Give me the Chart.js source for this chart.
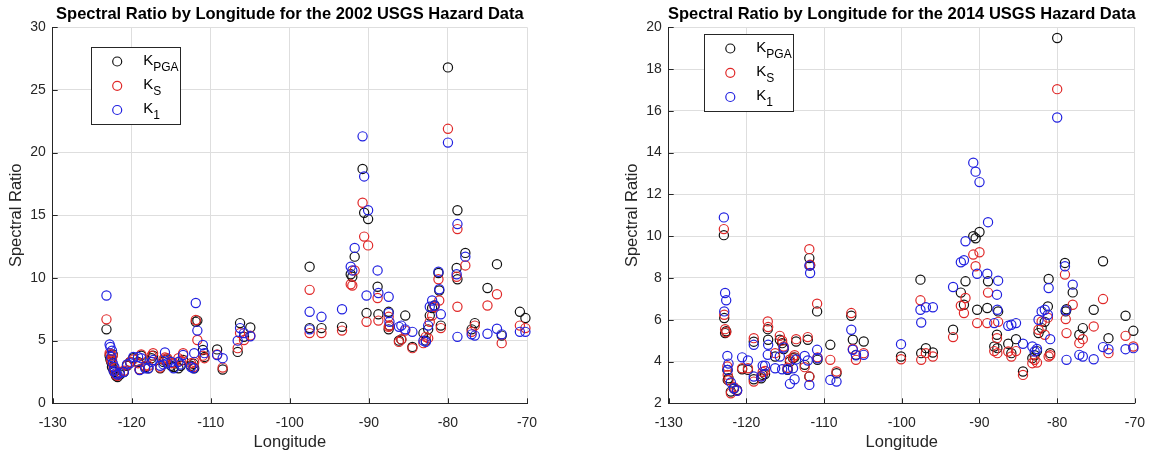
<!DOCTYPE html>
<html lang="en">
<head>
<meta charset="UTF-8">
<title>Spectral Ratio by Longitude</title>
<script src="https://cdn.jsdelivr.net/npm/chart.js"></script>
<style>
  body { margin: 0; background: #fff; }
  .panel { position: absolute; top: 0; width: 578px; height: 454px; }
</style>
</head>
<body>
<div class="panel" style="left:0"><canvas id="chart2002" width="578" height="454"></canvas></div>
<div class="panel" style="left:578px"><canvas id="chart2014" width="578" height="454"></canvas></div>
<script>
// ---- data ----
const seriesNames = ['K', 'K', 'K'];
const seriesSubs = ['PGA', 'S', '1'];
const seriesColors = ['#111111', '#e02828', '#2020e0'];

const xTicks = [-130, -120, -110, -100, -90, -80, -70];
const yTicks2002 = [0, 5, 10, 15, 20, 25, 30];
const yTicks2014 = [2, 4, 6, 8, 10, 12, 14, 16, 18, 20];

const lon2002 = [-123.2, -122.8, -122.7, -122.6, -122.5, -122.4, -122.3, -122.2, -122.0, -121.8, -121.5, -121.0,
  -120.6, -120.2, -119.8, -119.2, -119.0, -118.8, -118.3, -117.9, -117.5, -117.3, -116.4, -116.0, -115.8, -115.5,
  -115.0, -114.7, -114.1, -113.8, -113.5, -112.5, -112.2, -112.1, -111.9, -111.7, -111.0, -110.8, -109.2, -108.5,
  -106.6, -106.3, -105.8, -105.0,
  -97.5, -97.5, -96.0, -93.4, -92.3, -92.1, -91.8, -90.8, -90.6, -90.1, -90.3, -88.9, -88.8, -87.5, -87.5, -87.4,
  -86.2, -85.9, -85.4, -84.5, -83.1, -82.8, -82.5, -82.3, -82.0, -81.7, -81.2, -81.1, -80.9, -80.0, -78.8, -78.9,
  -78.8, -77.8, -77.0, -76.6, -75.0, -73.8, -73.2, -70.9, -70.2];
const kpga2002 = [5.9, 3.8, 3.5, 3.3, 2.9, 3.9, 2.7, 2.5, 2.2, 2.1, 2.3, 2.5, 3.0, 3.3, 3.6, 3.3, 2.7, 3.8, 2.9, 2.8,
  3.6, 3.8, 2.8, 3.3, 3.45, 3.5, 3.0, 2.9, 2.8, 3.0, 3.45, 3.0, 3.15, 2.8, 6.5, 6.6, 4.25, 3.7, 4.3, 2.7, 4.1, 6.4,
  5.3, 6.05,
  10.9, 6.0, 6.0, 6.1, 10.3, 10.1, 11.7, 18.7, 15.2, 14.7, 7.2, 9.3, 7.1, 7.3, 5.9, 6.2, 5.0, 5.1, 7.0, 4.5, 5.6,
  5.0, 5.9, 7.0, 7.6, 7.8, 10.4, 9.0, 6.2, 26.8, 15.4, 10.8, 9.9, 12.0, 5.9, 6.4, 9.2, 11.1, 5.4, 7.3, 6.8];
const ks2002 = [6.7, 4.0, 3.9, 3.4, 3.5, 3.8, 2.9, 2.6, 2.3, 2.2, 2.5, 2.6, 3.05, 3.3, 3.5, 3.2, 2.7, 3.9, 3.0, 3.0,
  3.8, 4.0, 2.85, 3.5, 3.65, 3.6, 3.2, 3.2, 3.6, 3.4, 4.0, 3.2, 2.9, 3.3, 6.65, 5.05, 3.8, 3.6, 3.9, 2.85, 4.4, 5.6,
  5.05, 5.4,
  9.05, 5.6, 5.6, 5.8, 9.5, 9.4, 10.6, 16.0, 13.3, 12.6, 6.5, 8.4, 6.6, 6.9, 6.1, 6.2, 4.9, 5.1, 5.8, 4.4, 4.8, 5.3,
  5.2, 6.5, 7.0, 7.7, 9.9, 8.2, 6.0, 21.9, 13.9, 10.1, 7.7, 11.0, 5.7, 6.2, 7.8, 8.7, 4.8, 6.2, 6.0];
const k12002 = [8.6, 4.7, 4.5, 3.7, 4.2, 3.2, 2.6, 2.9, 2.4, 2.3, 2.4, 2.5, 3.1, 3.2, 3.7, 3.7, 2.65, 3.6, 2.8, 2.8,
  3.3, 3.45, 3.0, 3.1, 4.05, 3.2, 3.3, 2.8, 3.3, 3.1, 3.85, 2.9, 2.8, 4.0, 8.0, 5.8, 4.65, 4.0, 3.85, 3.6, 5.0, 6.0,
  5.6, 5.35,
  7.3, 5.9, 6.9, 7.5, 10.9, 10.6, 12.4, 21.3, 18.1, 15.4, 8.6, 10.6, 8.8, 8.5, 7.2, 6.5, 6.1, 6.2, 5.9, 5.7, 5.0,
  4.9, 6.2, 7.7, 8.2, 7.8, 10.5, 9.1, 7.1, 20.8, 14.3, 10.3, 5.3, 11.7, 5.5, 5.4, 5.55, 5.95, 5.5, 5.7, 5.7];

const lon2014 = [-122.9, -122.85, -122.74, -122.6, -122.45, -122.4, -122.3, -122.0, -121.6, -121.2, -120.55, -119.8,
  -119.05, -119.05, -118.1, -117.9, -117.6, -117.25, -117.2, -116.3, -115.7, -115.4, -115.2, -114.7, -114.4, -114.0,
  -113.8, -113.6, -112.5, -112.1, -111.9, -111.9, -111.8, -110.9, -110.85, -109.2, -108.4, -106.5, -106.3, -105.9,
  -104.9,
  -100.1, -97.6, -97.5, -96.9, -96.0, -93.4, -92.4, -92.0, -91.8, -90.8, -90.5, -90.0, -90.3, -88.9, -89.0, -87.6,
  -87.75, -87.7, -88.1, -86.3, -85.9, -85.3, -84.4, -83.2, -82.9, -82.6, -82.4, -82.0, -81.6, -81.2, -81.1, -80.9,
  -80.0, -79.0, -78.9, -78.8, -78.0, -77.15, -76.7, -75.3, -74.1, -73.4, -71.2, -70.2];
const kpga2014 = [10.05, 6.08, 5.36, 5.45, 3.6, 3.12, 3.2, 2.56, 2.7, 2.64, 3.63, 3.6, 3.15, 4.95, 3.2, 3.36, 3.4,
  5.55, 5.04, 4.24, 5.04, 4.88, 4.6, 3.6, 4.0, 4.16, 4.2, 4.96, 3.84, 5.04, 3.28, 8.95, 8.6, 6.4, 4.08, 4.8, 3.44,
  6.19, 5.04, 4.32, 4.96,
  4.24, 7.92, 4.4, 4.64, 4.43, 5.52, 7.3, 6.72, 7.84, 10.0, 9.9, 10.2, 6.48, 7.84, 6.56, 6.4, 5.28, 4.64, 4.72, 4.85,
  4.4, 5.07, 3.52, 4.16, 4.3, 4.5, 5.36, 5.6, 5.9, 6.64, 7.95, 4.4, 19.49, 8.72, 6.4, 6.5, 7.31, 5.28, 5.6, 6.48,
  8.8, 5.12, 6.19, 5.47];
const ks2014 = [10.34, 6.24, 5.55, 5.4, 3.76, 3.36, 3.1, 2.48, 2.77, 2.6, 3.68, 3.68, 3.04, 5.12, 3.3, 3.5, 3.55,
  5.92, 5.65, 4.4, 5.23, 5.0, 4.72, 3.7, 4.1, 4.2, 4.3, 5.07, 3.73, 5.17, 3.28, 9.38, 8.63, 6.77, 4.2, 4.08, 3.52,
  6.32, 4.6, 4.08, 4.4,
  4.11, 6.93, 4.08, 4.4, 4.24, 5.17, 6.67, 6.32, 7.04, 9.12, 8.56, 9.23, 5.84, 7.3, 5.84, 5.9, 5.12, 4.4, 4.5, 4.48,
  4.24, 4.5, 3.36, 3.92, 4.08, 3.95, 5.52, 5.92, 5.28, 6.1, 4.24, 4.3, 17.04, 8.16, 6.03, 5.36, 6.72, 4.88, 5.07,
  5.68, 6.99, 4.4, 5.23, 4.72];
const k12014 = [10.9, 6.4, 7.28, 6.93, 4.27, 3.6, 3.9, 3.0, 2.72, 2.6, 4.2, 4.05, 3.28, 4.8, 3.28, 3.8, 3.8, 4.32,
  4.8, 3.68, 4.24, 3.63, 4.67, 3.63, 2.93, 3.68, 3.15, 4.1, 4.27, 4.05, 2.88, 8.59, 8.24, 4.56, 4.16, 3.12, 3.04,
  5.52, 4.56, 4.3, 4.32,
  4.83, 6.48, 5.87, 6.6, 6.6, 7.57, 8.75, 8.85, 9.76, 13.52, 13.09, 12.59, 8.2, 10.67, 8.2, 7.87, 7.2, 6.48, 5.84,
  5.71, 5.76, 5.84, 4.85, 4.72, 4.48, 4.6, 6.0, 6.4, 6.48, 6.24, 7.52, 5.07, 15.68, 8.56, 6.45, 4.08, 7.68, 4.32,
  4.24, 4.11, 4.69, 4.59, 4.59, 4.64];

const FONT = '"Liberation Sans", Arial, Helvetica, sans-serif';
const AXIS_GRAY = '#262626';

// draws the MATLAB-like bits: inward ticks, title, axis labels, legend box
const matlabLook = {
  id: 'matlabLook',
  afterDraw(chart, args, opts) {
    const ctx = chart.ctx;
    const area = chart.chartArea;
    const xs = chart.scales.x, ys = chart.scales.y;
    ctx.save();

    // inward tick marks
    ctx.strokeStyle = AXIS_GRAY;
    ctx.lineWidth = 1;
    ctx.beginPath();
    xs.ticks.forEach(t => {
      const px = Math.round(xs.getPixelForValue(t.value)) + 0.5;
      ctx.moveTo(px, area.bottom);
      ctx.lineTo(px, area.bottom - 5);
    });
    ys.ticks.forEach(t => {
      const py = Math.round(ys.getPixelForValue(t.value)) + 0.5;
      ctx.moveTo(area.left, py);
      ctx.lineTo(area.left + 5, py);
    });
    ctx.stroke();

    const midX = (area.left + area.right) / 2;
    const midY = (area.top + area.bottom) / 2;

    // title
    ctx.fillStyle = '#000';
    ctx.font = 'bold 16.5px ' + FONT;
    ctx.textAlign = 'center';
    ctx.textBaseline = 'middle';
    ctx.fillText(opts.title, midX, 14);

    // axis labels
    ctx.fillStyle = AXIS_GRAY;
    ctx.font = '16.5px ' + FONT;
    ctx.fillText('Longitude', midX, 442);
    ctx.save();
    ctx.translate(area.left - 36, midY);
    ctx.rotate(-Math.PI / 2);
    ctx.fillText('Spectral Ratio', 0, 0);
    ctx.restore();

    // legend
    const bx = area.left + opts.legendDx, by = area.top + opts.legendDy;
    const bw = 89, bh = 77;
    ctx.fillStyle = '#fff';
    ctx.fillRect(bx, by, bw, bh);
    ctx.strokeStyle = AXIS_GRAY;
    ctx.strokeRect(Math.round(bx) + 0.5, Math.round(by) + 0.5, bw, bh);
    const rows = [14.5, 38.8, 63];
    chart.data.datasets.forEach(ds => {
      const ry = by + rows[ds.legendIndex];
      ctx.beginPath();
      ctx.strokeStyle = ds.borderColor;
      ctx.lineWidth = 1.2;
      ctx.arc(bx + 26, ry, 4.5, 0, Math.PI * 2);
      ctx.stroke();
      ctx.fillStyle = '#000';
      ctx.textAlign = 'left';
      ctx.textBaseline = 'alphabetic';
      ctx.font = '15px ' + FONT;
      ctx.fillText(ds.nameMain, bx + 52, ry + 3);
      const w = ctx.measureText(ds.nameMain).width;
      ctx.font = '12px ' + FONT;
      ctx.fillText(ds.nameSub, bx + 52 + w, ry + 9);
    });

    ctx.restore();
  }
};

function makeDatasets(lon, series) {
  // blue drawn on top like in the original (lower order = drawn last)
  return series.map((vals, i) => ({
    label: seriesNames[i] + '_' + seriesSubs[i],
    nameMain: seriesNames[i],
    nameSub: seriesSubs[i],
    legendIndex: i,
    order: 2 - i,
    clip: false,
    data: lon.map((x, j) => ({ x: x, y: vals[j] })),
    borderColor: seriesColors[i],
    backgroundColor: 'rgba(0,0,0,0)',
    pointStyle: 'circle',
    pointRadius: 4.6,
    pointHoverRadius: 4.6,
    pointBorderWidth: 1.2
  }));
}

function makeChart(id, lon, series, yTicks, opts) {
  const ctx = document.getElementById(id).getContext('2d');
  return new Chart(ctx, {
    type: 'scatter',
    data: { datasets: makeDatasets(lon, series) },
    options: {
      responsive: false,
      animation: false,
      events: [],
      layout: { padding: { top: 27.3, right: opts.rightPad, left: 0, bottom: 0 } },
      plugins: {
        legend: { display: false },
        tooltip: { enabled: false },
        matlabLook: { title: opts.title, legendDx: opts.legendDx, legendDy: opts.legendDy }
      },
      scales: {
        x: {
          type: 'linear',
          min: xTicks[0],
          max: xTicks[xTicks.length - 1],
          afterBuildTicks: s => { s.ticks = xTicks.map(v => ({ value: v })); },
          afterFit: s => { s.height = 454 - 403.3; },
          grid: { color: '#dedede', drawTicks: false },
          border: { color: AXIS_GRAY, width: 1 },
          ticks: { color: AXIS_GRAY, font: { family: FONT, size: 14 }, padding: 11, maxRotation: 0 }
        },
        y: {
          type: 'linear',
          min: yTicks[0],
          max: yTicks[yTicks.length - 1],
          afterBuildTicks: s => { s.ticks = yTicks.map(v => ({ value: v })); },
          afterFit: s => { s.width = opts.yAxisWidth; },
          grid: { color: '#dedede', drawTicks: false },
          border: { color: AXIS_GRAY, width: 1 },
          ticks: { color: AXIS_GRAY, font: { family: FONT, size: 14 }, padding: 7 }
        }
      }
    },
    plugins: [matlabLook]
  });
}

makeChart('chart2002', lon2002, [kpga2002, ks2002, k12002], yTicks2002, {
  title: 'Spectral Ratio by Longitude for the 2002 USGS Hazard Data',
  yAxisWidth: 52.7, rightPad: 578 - 527, legendDx: 38.5, legendDy: 19.7
});
makeChart('chart2014', lon2014, [kpga2014, ks2014, k12014], yTicks2014, {
  title: 'Spectral Ratio by Longitude for the 2014 USGS Hazard Data',
  yAxisWidth: 90.7, rightPad: 578 - 566.3, legendDx: 35.6, legendDy: 6.7
});
</script>
</body>
</html>
